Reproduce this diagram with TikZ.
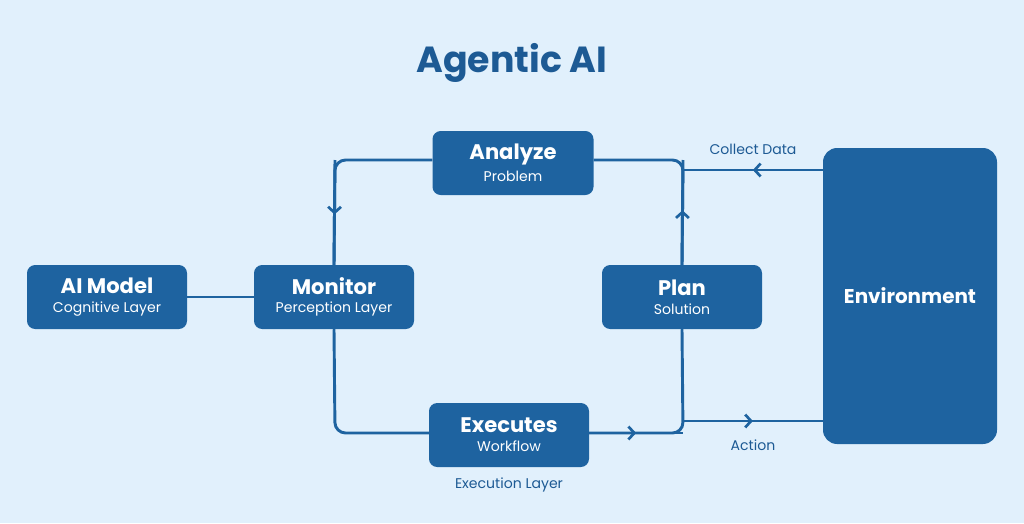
\documentclass[tikz,border=0pt]{standalone}
\usepackage{fontspec}
\setmainfont{Poppins}
\usetikzlibrary{decorations.markings,arrows.meta}
\definecolor{bg}{HTML}{E1F0FC}
\definecolor{nb}{HTML}{1E63A0}
\definecolor{tb}{HTML}{1D5A94}
\begin{document}
\begin{tikzpicture}[x=0.03cm,y=-0.03cm,
  box/.style={fill=nb,rounded corners=7pt,text=white,align=center,inner sep=0pt},
  ln/.style={draw=nb,line width=2.5pt,rounded corners=9pt},
  mk/.style={postaction={decorate,decoration={markings,mark=at position #1 with {\arrow{Straight Barb[length=5pt,width=11pt,line width=2.3pt]}}}}},
  lab/.style={text=tb,font=\fontsize{12}{14}\selectfont}]
\fill[bg] (0,0) rectangle (1024,523);
\node[text=tb,font=\bfseries\fontsize{31}{34}\selectfont] (title) at (512,63) {Agentic AI};
\newcommand{\bx}[6]{\node[box,minimum width=#4*0.03cm,minimum height=#5*0.03cm] (#1) at (#2,#3) {#6};}
\bx{ai}{107}{297}{160}{64}{{\bfseries\fontsize{18}{21}\selectfont AI Model}\\[4pt]{\fontsize{12}{14}\selectfont Cognitive Layer}}
\bx{mon}{334}{297}{160}{64}{{\bfseries\fontsize{18}{21}\selectfont Monitor}\\[4pt]{\fontsize{12}{14}\selectfont Perception Layer}}
\bx{ana}{513}{163}{161}{64}{{\bfseries\fontsize{18}{21}\selectfont Analyze}\\[4pt]{\fontsize{12}{14}\selectfont Problem}}
\bx{plan}{682}{297}{160}{64}{{\bfseries\fontsize{18}{21}\selectfont Plan}\\[4pt]{\fontsize{12}{14}\selectfont Solution}}
\bx{exe}{509}{435}{160}{64}{{\bfseries\fontsize{18}{21}\selectfont Executes}\\[4pt]{\fontsize{12}{14}\selectfont Workflow}}
\node[box,rounded corners=12pt,minimum width=174*0.03cm,minimum height=296*0.03cm,font=\bfseries\fontsize{17}{20}\selectfont] (env) at (910,296) {Environment};
\coordinate (c1) at (335,160);
\coordinate (c2) at (335,433);
\coordinate (c3) at (683,433);
\coordinate (c4) at (683,160);
\coordinate (e1) at (683,170);
\coordinate (e2) at (683,421);
\draw[ln] (ai.east) -- (mon.west);
\draw[ln] (ana.west |- c1) -- (c1) -- (mon.north);
\draw[ln,mk=0.52] (c1) -- (mon.north);
\draw[ln] (mon.south) -- (c2) -- (exe.west |- c2);
\draw[ln] (exe.east |- c3) -- (c3) -- (plan.south);
\draw[ln,mk=0.5] (exe.east |- c3) -- (c3);
\draw[ln] (plan.north) -- (c4) -- (ana.east |- c4);
\draw[ln,mk=0.52] (plan.north) -- (c4);
\draw[ln,mk=0.5] (env.west |- e1) -- (e1);
\draw[ln,mk=0.5] (e2) -- (env.west |- e2);
\node[lab] (cd) at (753,149) {Collect Data};
\node[lab] (act) at (753,445) {Action};
\node[lab] (el) at (509,485) {Execution Layer};
\end{tikzpicture}
\end{document}
